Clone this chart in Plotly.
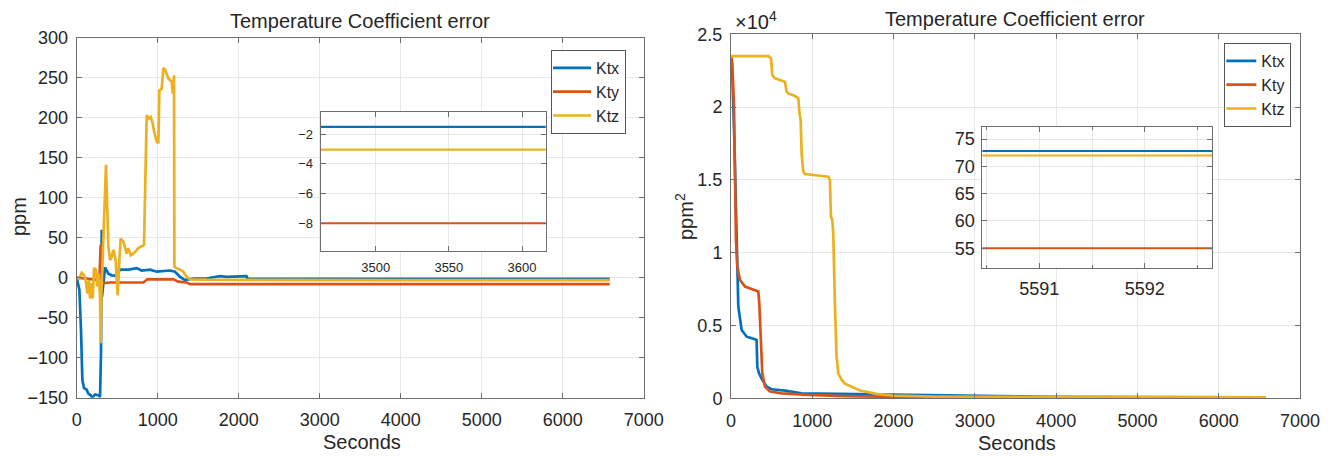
import plotly.graph_objects as go

# ---------------- Data: left panel (ppm) ----------------
ktx_t = [0, 33, 53, 70, 91, 123, 144, 173, 193, 226, 267, 288, 300, 309, 312, 350, 391, 432, 494,
         535, 638, 741, 802, 905, 988, 1152, 1214, 1276, 1337, 1379, 1450, 1600, 1770, 1850, 1934,
         2000, 2095, 2110, 3000, 4000, 5000, 6580]
ktx_v = [0, -15, -65, -128, -138, -140, -145, -147, -150, -146, -147, -149, -95, 60, -24, 13, 5, 3, 2.5,
         10, 10, 12, 9, 10, 7.5, 9, 7.5, 1, -3, -2, -1, -1, 2, 1, 1.5,
         1, 2, -1.5, -1.5, -1.5, -1.5, -1.5]

kty_t = [0, 82, 200, 280, 296, 309, 412, 823, 872, 946, 1193, 1255, 1358, 1399, 3000, 5000, 6580]
kty_v = [0, -1, -2, -3, 41, -7, -6, -6, -2, -2, -2, -5, -6, -8, -8, -8, -8]

ktz_t = [0, 30, 62, 91, 111, 132, 152, 165, 185, 198, 214, 239, 255, 272, 288, 296, 305, 330, 362,
         391, 412, 432, 453, 481, 506, 527, 543, 576, 617, 638, 667, 720, 761, 831, 844, 864,
         893, 913, 938, 955, 988, 1008, 1021, 1049, 1070, 1091, 1132, 1173, 1185, 1202, 1206,
         1226, 1276, 1317, 1358, 1399, 1600, 2500, 4000, 6580]
ktz_v = [0, -1, 6, 3, -3, -20, -3, -26, -7, -26, 12, 10, -11, 5, -24, -82, -20, 60, 141,
         39, 22, 26, 35, 22, -22, 22, 49, 45, 30, 37, 28, 32, 37, 41, 120, 203,
         199, 201, 193, 183, 170, 168, 234, 236, 262, 260, 249, 245, 230, 253, 14,
         12, 10, 7.5, 1, -2, -2.5, -3, -3.05, -3.05]

# ---------------- Data: right panel (ppm^2) ----------------
ptx_t = [0, 16, 41, 57, 70, 90, 131, 193, 295, 315, 324, 344, 385, 439, 500, 664, 869, 1361, 2000,
         3000, 4000, 5000, 5500, 6580]
ptx_v = [23500, 22300, 17720, 13160, 9960, 6290, 4690, 4230, 4050, 4000, 2170, 1720, 1260, 800, 620,
         530, 340, 300, 250, 150, 100, 80, 72.8, 72.8]

pty_t = [0, 16, 37, 49, 61, 78, 111, 172, 254, 336, 348, 365, 385, 418, 479, 623, 951, 1400, 2000,
         3000, 4000, 5000, 5500, 6580]
pty_v = [23500, 23000, 20030, 15450, 10870, 9040, 8130, 7670, 7490, 7330, 6520, 4000, 1720, 800, 460,
         340, 230, 150, 100, 70, 60, 56, 55, 55]

ptz_t = [0, 459, 492, 508, 541, 643, 664, 684, 705, 787, 828, 840, 857, 869, 889, 910, 1012, 1197,
         1217, 1229, 1246, 1258, 1279, 1299, 1320, 1361, 1402, 1484, 1586, 1791, 1996, 2500, 3000,
         4000, 5000, 5500, 6580]
ptz_v = [23500, 23500, 23350, 22200, 21975, 21810, 21745, 21060, 20940, 20760, 20600, 19690, 19110,
         16820, 15560, 15400, 15340, 15220, 14990, 12470, 12250, 11330, 6290, 2860, 1720, 1260, 1000,
         800, 530, 300, 180, 120, 100, 85, 75, 72, 72]

names = ["Ktx", "Kty", "Ktz"]
colors = ["#0072BD", "#D95319", "#EDB120"]

main_ticks = list(range(0, 7001, 1000))
left_yticks = list(range(-150, 301, 50))
right_yticks = [0, 5000, 10000, 15000, 20000, 25000]
right_yticktext = ["0", "0.5", "1", "1.5", "2", "2.5"]
left_inset_xticks = [3500, 3550, 3600]
left_inset_yticks = [-8, -6, -4, -2]
right_inset_xticks = [5591, 5592]
right_inset_xminor = [5590.5, 5591.5, 5592.5]
right_inset_yticks = [55, 60, 65, 70, 75]

FONT = "Liberation Sans, Arial, Helvetica, sans-serif"
W, H = 1331, 457

def px(x):
    return x / W

def py(y):
    return 1 - y / H

fig = go.Figure()

left_series = [(ktx_t, ktx_v), (kty_t, kty_v), (ktz_t, ktz_v)]
right_series = [(ptx_t, ptx_v), (pty_t, pty_v), (ptz_t, ptz_v)]

for i, (t, v) in enumerate(left_series):
    fig.add_trace(go.Scatter(x=t, y=v, mode="lines", name=names[i],
                             line=dict(color=colors[i], width=2.7),
                             xaxis="x", yaxis="y", legend="legend", showlegend=True))
for i, (t, v) in enumerate(left_series):
    fig.add_trace(go.Scatter(x=t, y=v, mode="lines", name=names[i],
                             line=dict(color=colors[i], width=2.2),
                             xaxis="x3", yaxis="y3", showlegend=False))
for i, (t, v) in enumerate(right_series):
    fig.add_trace(go.Scatter(x=t, y=v, mode="lines", name=names[i],
                             line=dict(color=colors[i], width=2.7),
                             xaxis="x2", yaxis="y2", legend="legend2", showlegend=True))
for i, (t, v) in enumerate(right_series):
    fig.add_trace(go.Scatter(x=t, y=v, mode="lines", name=names[i],
                             line=dict(color=colors[i], width=2.0),
                             xaxis="x4", yaxis="y4", showlegend=False))

GRID = "#e8e8e8"
LINE = "#6e6e6e"
TXT = "#262626"

def axis(domain, rng, tickvals, ticktext=None, size=18, anchor=None, standoff=4, minor=None):
    d = dict(domain=domain, range=rng, tickvals=tickvals, showgrid=True, gridcolor=GRID,
             gridwidth=1, showline=True, linecolor=LINE, linewidth=1, mirror="ticks",
             ticks="inside", ticklen=5, tickcolor=LINE, zeroline=False, automargin=False,
             tickfont=dict(family=FONT, size=size, color=TXT), anchor=anchor,
             ticklabelstandoff=standoff)
    if ticktext is not None:
        d["ticktext"] = ticktext
    if minor is not None:
        d["minor"] = dict(tickvals=minor, showgrid=True, gridcolor=GRID, ticks="inside",
                          ticklen=3, tickcolor=LINE)
    return d

fig.update_layout(
    width=W, height=H, autosize=False,
    margin=dict(l=0, r=0, t=0, b=0, pad=0, autoexpand=False),
    paper_bgcolor="white", plot_bgcolor="white",
    font=dict(family=FONT, color=TXT),
    xaxis=axis([px(76.7), px(643.7)], [0, 7000], main_ticks, size=18, anchor="y", standoff=6),
    yaxis=axis([py(397.7), py(37.7)], [-150, 300], left_yticks, size=18, anchor="x", standoff=4),
    xaxis2=axis([px(731), px(1300)], [0, 7000], main_ticks, size=18, anchor="y2", standoff=6),
    yaxis2=axis([py(398.3), py(34.3)], [0, 25000], right_yticks, right_yticktext, size=18,
                anchor="x2", standoff=4),
    xaxis3=axis([px(320.7), px(545.7)], [3462.4, 3616.2], left_inset_xticks, size=13,
                anchor="y3", standoff=4),
    yaxis3=axis([py(251), py(112)], [-9.87, -0.5], left_inset_yticks, size=13, anchor="x3",
                standoff=4),
    xaxis4=axis([px(982.3), px(1212.3)], [5590.46, 5592.64], right_inset_xticks,
                size=18, anchor="y4", standoff=5, minor=right_inset_xminor),
    yaxis4=axis([py(267.7), py(126.7)], [51.45, 77.25], right_inset_yticks, size=18,
                anchor="x4", standoff=3),
    legend=dict(x=px(551), y=py(50), xanchor="left", yanchor="top", bgcolor="white",
                bordercolor="#555555", borderwidth=1, font=dict(family=FONT, size=16, color=TXT),
                itemwidth=38, tracegroupgap=0, indentation=-4),
    legend2=dict(x=px(1224.3), y=py(43), xanchor="left", yanchor="top", bgcolor="white",
                 bordercolor="#555555", borderwidth=1, font=dict(family=FONT, size=16, color=TXT),
                 itemwidth=30, tracegroupgap=0, indentation=-4),
    showlegend=True,
)

ann = [
    dict(text="Temperature Coefficient error", x=px(360), y=py(21), size=20),
    dict(text="Temperature Coefficient error", x=px(1015), y=py(19), size=20),
    dict(text="Seconds", x=px(362), y=py(442), size=20),
    dict(text="Seconds", x=px(1017), y=py(443), size=20),
    dict(text="×10<sup>4</sup>", x=px(756), y=py(20), size=20),
]
annotations = [dict(text=a["text"], x=a["x"], y=a["y"], xref="paper", yref="paper",
                    showarrow=False, xanchor="center", yanchor="middle",
                    font=dict(family=FONT, size=a["size"], color=TXT)) for a in ann]
annotations.append(dict(text="ppm", x=px(19), y=py(217), xref="paper", yref="paper",
                        showarrow=False, textangle=-90, xanchor="center", yanchor="middle",
                        font=dict(family=FONT, size=20, color=TXT)))
annotations.append(dict(text="ppm<sup>2</sup>", x=px(685), y=py(217), xref="paper", yref="paper",
                        showarrow=False, textangle=-90, xanchor="center", yanchor="middle",
                        font=dict(family=FONT, size=20, color=TXT)))
fig.update_layout(annotations=annotations)

fig.write_html("out.html")
